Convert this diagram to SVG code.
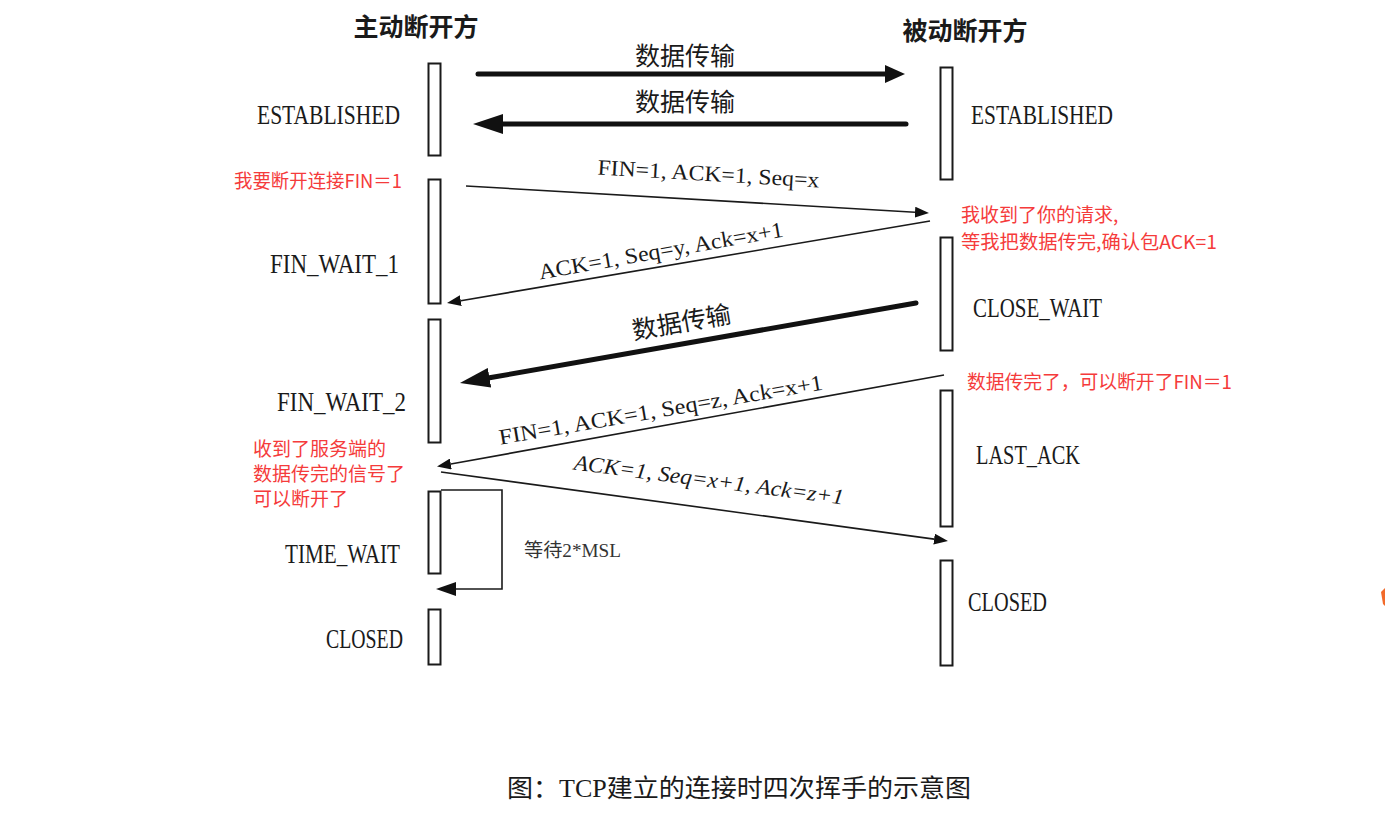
<svg xmlns="http://www.w3.org/2000/svg" width="1385" height="837" viewBox="0 0 1385 837">
  <style>
    .bar { fill: #ffffff; stroke: #1a1a1a; stroke-width: 2; }
    .state { font-family: "Liberation Serif", serif; font-size: 27.5px; fill: #1a1a1a; }
    .title { font-family: "Noto Sans CJK SC", sans-serif; font-size: 25px; font-weight: bold; fill: #1a1a1a; text-anchor: middle; }
    .data { font-family: "Noto Sans CJK SC", sans-serif; font-size: 25px; fill: #1a1a1a; text-anchor: middle; }
    .msg { font-family: "Liberation Serif", "Noto Sans CJK SC", serif; font-size: 22px; fill: #1a1a1a; text-anchor: middle; }
    .note { font-family: "Noto Sans CJK SC", sans-serif; font-size: 19px; fill: #f53b3b; }
    .thick { fill: none; stroke: #111111; stroke-width: 5; stroke-linecap: round; }
    .thin { fill: none; stroke: #1a1a1a; stroke-width: 1.6; }
    .caption { font-family: "Liberation Serif", "Noto Sans CJK SC", serif; font-size: 25px; fill: #1a1a1a; }
  </style>
  <defs>
    <marker id="headBig" markerUnits="userSpaceOnUse" markerWidth="30" markerHeight="20" refX="0" refY="10" orient="auto">
      <path d="M0,0 L30,10 L0,20 Z" fill="#111111"/>
    </marker>
    <marker id="headMid" markerUnits="userSpaceOnUse" markerWidth="20" markerHeight="18" refX="0" refY="9" orient="auto">
      <path d="M0,0 L20,9 L0,18 Z" fill="#111111"/>
    </marker>
    <marker id="headSmall" markerUnits="userSpaceOnUse" markerWidth="14" markerHeight="11" refX="0" refY="5.5" orient="auto">
      <path d="M0,0 L14,5.5 L0,11 Z" fill="#111111"/>
    </marker>
    <marker id="headLoop" markerUnits="userSpaceOnUse" markerWidth="20" markerHeight="14" refX="0" refY="7" orient="auto">
      <path d="M0,0 L20,7 L0,14 Z" fill="#111111"/>
    </marker>
  </defs>

  <rect width="1385" height="837" fill="#ffffff"/>

  <!-- column headings -->
  <text class="title" x="416" y="36">主动断开方</text>
  <text class="title" x="965" y="40">被动断开方</text>

  <!-- active closer (client) -->
  <g id="client-established">
    <rect class="bar" x="428.5" y="63.5" width="12" height="92"/>
    <text class="state" x="257" y="124" textLength="143" lengthAdjust="spacingAndGlyphs">ESTABLISHED</text>
  </g>
  <g id="client-fin-wait-1">
    <rect class="bar" x="428.5" y="179.5" width="12" height="124"/>
    <text class="state" x="270" y="273" textLength="129" lengthAdjust="spacingAndGlyphs">FIN_WAIT_1</text>
  </g>
  <g id="client-fin-wait-2">
    <rect class="bar" x="428.5" y="319.5" width="12" height="123"/>
    <text class="state" x="277" y="411" textLength="129" lengthAdjust="spacingAndGlyphs">FIN_WAIT_2</text>
  </g>
  <g id="client-time-wait">
    <rect class="bar" x="428.5" y="491.5" width="12" height="82"/>
    <text class="state" x="285" y="563" textLength="115" lengthAdjust="spacingAndGlyphs">TIME_WAIT</text>
  </g>
  <g id="client-closed">
    <rect class="bar" x="428.5" y="609.5" width="12" height="55"/>
    <text class="state" x="326" y="648" textLength="77" lengthAdjust="spacingAndGlyphs">CLOSED</text>
  </g>

  <!-- passive closer (server) -->
  <g id="server-established">
    <rect class="bar" x="940.5" y="67.5" width="12" height="112"/>
    <text class="state" x="971" y="124" textLength="142" lengthAdjust="spacingAndGlyphs">ESTABLISHED</text>
  </g>
  <g id="server-close-wait">
    <rect class="bar" x="940.5" y="237.5" width="12" height="113"/>
    <text class="state" x="973" y="317" textLength="129" lengthAdjust="spacingAndGlyphs">CLOSE_WAIT</text>
  </g>
  <g id="server-last-ack">
    <rect class="bar" x="940.5" y="390.5" width="12" height="136"/>
    <text class="state" x="976" y="464" textLength="104" lengthAdjust="spacingAndGlyphs">LAST_ACK</text>
  </g>
  <g id="server-closed">
    <rect class="bar" x="940.5" y="560.5" width="12" height="105"/>
    <text class="state" x="968" y="611" textLength="79" lengthAdjust="spacingAndGlyphs">CLOSED</text>
  </g>

  <!-- messages between the two sides -->
  <g id="connectors">
    <path class="thick" d="M478,74 L885,74" marker-end="url(#headMid)"/>
    <path class="thick" d="M906,124 L503,124" marker-end="url(#headBig)"/>
    <path class="thin" d="M466,186 L915,212.2" marker-end="url(#headSmall)"/>
    <path class="thin" d="M930,221 L460.8,300.7" marker-end="url(#headSmall)"/>
    <path class="thick" d="M916,303 L489.5,377.8" marker-end="url(#headBig)"/>
    <path class="thin" d="M944,375 L450.8,464" marker-end="url(#headSmall)"/>
    <path class="thin" d="M441,472 L934.1,539.1" marker-end="url(#headSmall)"/>
    <path class="thin" d="M441,490 L502,490 L502,589 L456,589" marker-end="url(#headLoop)"/>
  </g>

  <!-- message labels -->
  <g id="labels">
    <text class="data" x="685" y="65">数据传输</text>
    <text class="data" x="685" y="111">数据传输</text>
    <text class="msg" transform="translate(708,181) rotate(3.3)" x="0" y="0" textLength="222" lengthAdjust="spacingAndGlyphs">FIN=1, ACK=1, Seq=x</text>
    <text class="msg" transform="translate(662,258) rotate(-10)" x="0" y="0" textLength="248" lengthAdjust="spacingAndGlyphs">ACK=1, Seq=y, Ack=x+1</text>
    <text class="data" transform="translate(683,331) rotate(-10)" x="0" y="0">数据传输</text>
    <text class="msg" transform="translate(662,417) rotate(-9.7)" x="0" y="0" textLength="328" lengthAdjust="spacingAndGlyphs">FIN=1, ACK=1, Seq=z, Ack=x+1</text>
    <text class="msg" transform="translate(708,487) rotate(7.4)" x="0" y="0" font-style="italic" textLength="272" lengthAdjust="spacingAndGlyphs">ACK=1, Seq=x+1, Ack=z+1</text>
    <text x="524" y="557" font-family="Liberation Serif, Noto Sans CJK SC, serif" font-size="19" fill="#333333" textLength="97" lengthAdjust="spacingAndGlyphs">等待2*MSL</text>
  </g>

  <!-- red notes -->
  <g id="notes">
    <text class="note" x="234" y="188" textLength="168" lengthAdjust="spacingAndGlyphs">我要断开连接FIN＝1</text>
    <text class="note" x="961" y="222">我收到了你的请求,</text>
    <text class="note" x="961" y="249" textLength="256" lengthAdjust="spacingAndGlyphs">等我把数据传完,确认包ACK=1</text>
    <text class="note" x="967" y="389" textLength="265" lengthAdjust="spacingAndGlyphs">数据传完了，可以断开了FIN＝1</text>
    <text class="note" x="253" y="456">收到了服务端的</text>
    <text class="note" x="253" y="481">数据传完的信号了</text>
    <text class="note" x="253" y="506">可以断开了</text>
  </g>

  <!-- caption -->
  <text class="caption" x="507" y="797" textLength="464" lengthAdjust="spacingAndGlyphs">图：TCP建立的连接时四次挥手的示意图</text>

  <!-- stray orange stroke at the right edge -->
  <path d="M1381,592 L1385,588 L1385,606 L1383,604 Z" fill="#f26a2a"/>
</svg>
